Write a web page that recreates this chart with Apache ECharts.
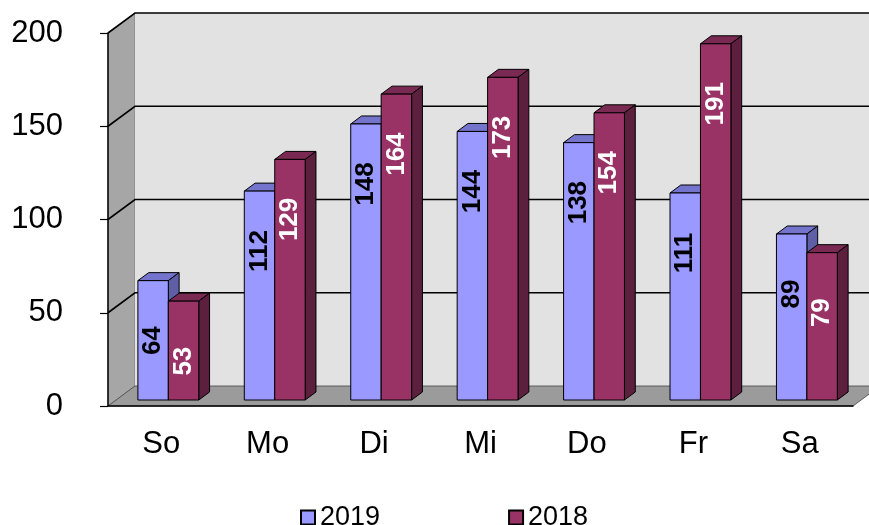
<!DOCTYPE html>
<html>
<head>
<meta charset="utf-8">
<script src="https://cdn.jsdelivr.net/npm/echarts@6/dist/echarts.min.js"></script>
<style>
  html, body { margin: 0; padding: 0; background: #fff; }
  #chart { width: 869px; height: 525px; }
</style>
</head>
<body>
<div id="chart"></div>
<script>
// Daten
const categories = ['So', 'Mo', 'Di', 'Mi', 'Do', 'Fr', 'Sa']
const values2019 = [64, 112, 148, 144, 138, 111, 89]
const values2018 = [53, 129, 164, 173, 154, 191, 79]
const yTicks = [0, 50, 100, 150, 200]

// 3D-Tiefe (Rückwand gegenüber Vorderkante)
const DX = 27
const DY = -20
const FONT = 'Arial, "Liberation Sans", sans-serif'

const chart = echarts.init(document.getElementById('chart'))

// Wände, Boden und Gitterlinien
const renderFrame = (params, api) => {
  const cs = params.coordSys
  const L = cs.x, R = cs.x + cs.width, T = cs.y, B = cs.y + cs.height
  const children = [
    { type: 'polygon', shape: { points: [[L, T], [L + DX, T + DY], [L + DX, B + DY], [L, B]] },
      style: { fill: '#a6a6a6', stroke: '#555', lineWidth: 0.5 } },
    { type: 'rect', shape: { x: L + DX, y: T + DY, width: R - L, height: B - T },
      style: { fill: '#e2e2e2' } },
    { type: 'polygon', shape: { points: [[L, B], [R, B], [R + DX, B + DY], [L + DX, B + DY]] },
      style: { fill: '#9b9b9b', stroke: '#444', lineWidth: 0.8 } }
  ]
  yTicks.forEach(t => {
    if (t === 0) return
    const y = api.coord([0, t])[1]
    children.push({
      type: 'polyline',
      shape: { points: [[L, y], [L + DX, y + DY], [R + DX, y + DY]] },
      style: { stroke: '#000', lineWidth: 1.6, fill: null }
    })
  })
  return { type: 'group', children }
}

// Säulen mit Deckfläche und Seitenfläche
const makeBar = (slot, front, top, side, labelColor) => (params, api) => {
  const i = api.value(0)
  const v = api.value(1)
  const base = api.coord([i, 0])
  const peak = api.coord([i, v])
  const bw = api.size([1, 0])[0] * 0.286
  const d0x = 0.3 * DX - 1, d0y = 0.3 * DY
  const ddx = 0.4 * DX, ddy = 0.4 * DY
  const x0 = base[0] + d0x + (slot - 1) * bw
  const x1 = x0 + bw
  const yb = base[1] + d0y
  const yt = peak[1] + d0y
  const line = { stroke: '#000', lineWidth: 1 }
  return {
    type: 'group',
    children: [
      { type: 'polygon', shape: { points: [[x0, yt], [x1, yt], [x1 + ddx, yt + ddy], [x0 + ddx, yt + ddy]] },
        style: Object.assign({ fill: top }, line) },
      { type: 'polygon', shape: { points: [[x1, yt], [x1 + ddx, yt + ddy], [x1 + ddx, yb + ddy], [x1, yb]] },
        style: Object.assign({ fill: side }, line) },
      { type: 'rect', shape: { x: x0, y: yt, width: bw, height: yb - yt },
        style: Object.assign({ fill: front }, line) },
      { type: 'text', x: x0 + bw / 2, y: yt + 60, rotation: Math.PI / 2,
        style: { text: String(v), fill: labelColor, font: 'bold 26px ' + FONT,
          align: 'center', verticalAlign: 'middle' } }
    ]
  }
}

const option = {
  animation: false,
  textStyle: { fontFamily: FONT },
  grid: { left: 108, right: 16, top: 33, bottom: 119 },
  legend: {
    data: ['2019', '2018'],
    left: 295,
    top: 499,
    icon: 'rect',
    itemWidth: 14,
    itemHeight: 14,
    itemGap: 128,
    itemStyle: { borderColor: '#000', borderWidth: 2 },
    textStyle: { fontSize: 27, color: '#000', fontFamily: FONT }
  },
  xAxis: {
    type: 'category',
    data: categories,
    z: 10,
    axisLine: { lineStyle: { color: '#000', width: 1.5 } },
    axisTick: { length: 8, lineStyle: { color: '#000', width: 1.2 } },
    axisLabel: { fontSize: 31, color: '#000', margin: 23 }
  },
  yAxis: {
    type: 'value',
    min: 0,
    max: 200,
    interval: 50,
    z: 10,
    axisLine: { show: true, lineStyle: { color: '#000', width: 1.5 } },
    axisTick: { show: true, length: 8, lineStyle: { color: '#000', width: 1.2 } },
    axisLabel: { fontSize: 31, color: '#000', margin: 45 },
    splitLine: { show: false }
  },
  series: [
    {
      name: 'frame',
      type: 'custom',
      z: 1,
      silent: true,
      renderItem: renderFrame,
      data: [[0, 0]]
    },
    {
      name: '2019',
      type: 'custom',
      z: 2,
      itemStyle: { color: '#9999ff', borderColor: '#000' },
      renderItem: makeBar(0, '#9999ff', '#7474cc', '#5f5fa8', '#000'),
      encode: { x: 0, y: 1 },
      data: values2019.map((v, i) => [i, v])
    },
    {
      name: '2018',
      type: 'custom',
      z: 2,
      itemStyle: { color: '#993366', borderColor: '#000' },
      renderItem: makeBar(1, '#993366', '#7a2952', '#5c1f3d', '#fff'),
      encode: { x: 0, y: 1 },
      data: values2018.map((v, i) => [i, v])
    }
  ]
}

chart.setOption(option)
</script>
</body>
</html>
